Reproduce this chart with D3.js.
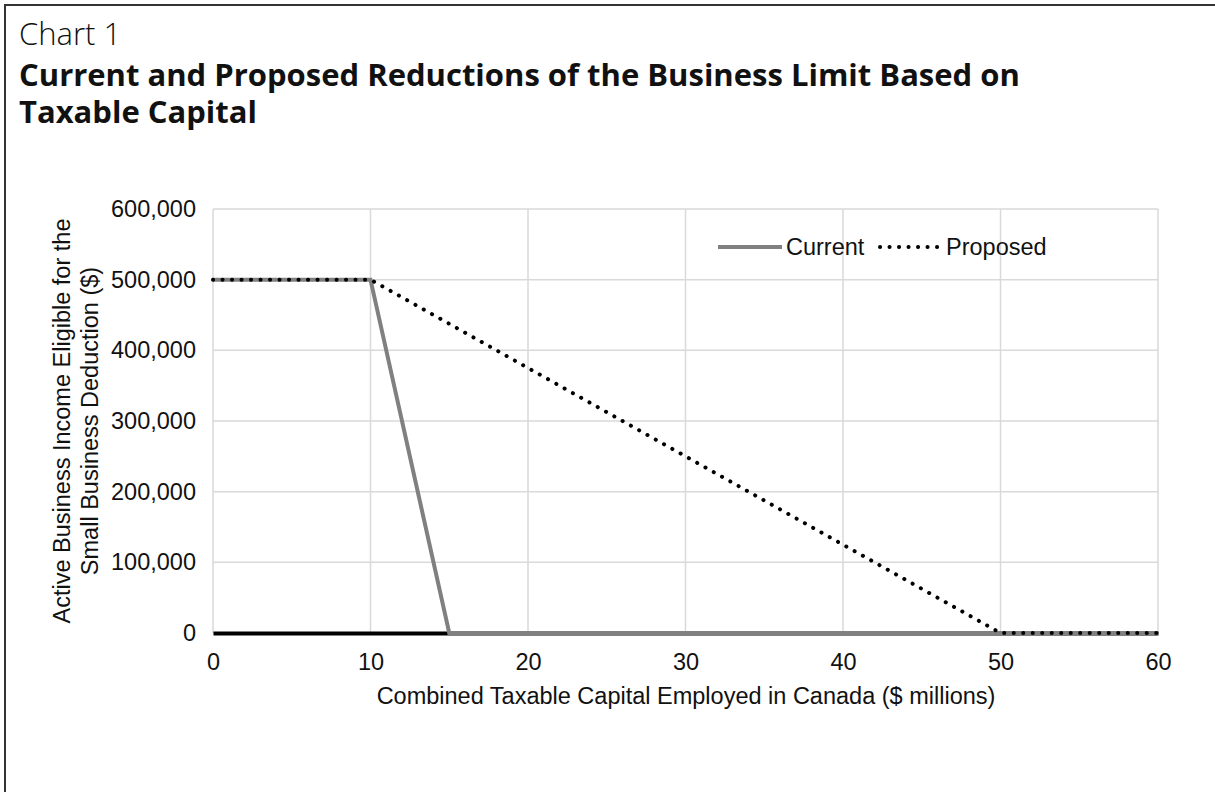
<!DOCTYPE html>
<html><head><meta charset="utf-8">
<script src="https://cdn.jsdelivr.net/npm/d3@7"></script>
<style>
body{margin:0;background:#fff;}
svg{display:block;}
</style></head>
<body>
<svg id="chart" width="1215" height="792"></svg>
<script>
const currentX = [0, 10, 15, 60];
const currentValues = [500000, 500000, 0, 0];
const proposedX = [0, 10, 50, 60];
const proposedValues = [500000, 500000, 0, 0];
const xTicks = [0, 10, 20, 30, 40, 50, 60];
const yTicks = [0, 100000, 200000, 300000, 400000, 500000, 600000];
const seriesNames = ["Current", "Proposed"];

const svg = d3.select("#chart");
svg.append("rect").attr("x",5).attr("y",5).attr("width",1220).attr("height",800)
  .attr("fill","none").attr("stroke","#333").attr("stroke-width",2);

const tfont = "'Open Sans', sans-serif";
svg.append("text").attr("x",19).attr("y",45).text("Chart 1")
  .style("font-family",tfont).style("font-size","31px").style("font-weight","300").attr("fill","#111");
const tt = svg.append("text").style("font-family",tfont).style("font-size","31px").style("font-weight","700").attr("fill","#111");
tt.append("tspan").attr("x",19).attr("y",86).text("Current and Proposed Reductions of the Business Limit Based on");
tt.append("tspan").attr("x",19).attr("y",123).text("Taxable Capital");

const x = d3.scaleLinear().domain([0,60]).range([213,1158]);
const y = d3.scaleLinear().domain([0,600000]).range([633,209]);
const font = "'Liberation Sans', Arial, sans-serif";
const fs = "23.5px";

svg.append("g").selectAll("line").data(xTicks).join("line")
  .attr("x1",d=>x(d)).attr("x2",d=>x(d)).attr("y1",y(0)).attr("y2",y(600000))
  .attr("stroke","#d9d9d9").attr("stroke-width",1.5);
svg.append("g").selectAll("line").data(yTicks).join("line")
  .attr("x1",x(0)).attr("x2",x(60)).attr("y1",d=>y(d)).attr("y2",d=>y(d))
  .attr("stroke","#d9d9d9").attr("stroke-width",1.5);

const yAxis = d3.axisLeft(y).tickValues(yTicks).tickFormat(d3.format(",")).tickSize(0).tickPadding(17);
const gy = svg.append("g").attr("transform",`translate(${x(0)},0)`).call(yAxis);
gy.select(".domain").remove();
gy.selectAll("text").style("font-family",font).style("font-size",fs).attr("fill","#111");

const xAxis = d3.axisBottom(x).tickValues(xTicks).tickSize(0).tickPadding(20);
const gx = svg.append("g").attr("transform",`translate(0,${y(0)})`).call(xAxis);
gx.select(".domain").attr("stroke","#000").attr("stroke-width",4);
gx.selectAll("text").style("font-family",font).style("font-size",fs).attr("fill","#111");

const curData = currentX.map((c,i)=>({x:c,y:currentValues[i]}));
const propData = proposedX.map((c,i)=>({x:c,y:proposedValues[i]}));
const line = d3.line().x(d=>x(d.x)).y(d=>y(d.y));
svg.append("path").datum(curData).attr("d",line).attr("fill","none")
  .attr("stroke","#808080").attr("stroke-width",4);
svg.append("path").datum(propData).attr("d",line).attr("fill","none")
  .attr("stroke","#000").attr("stroke-width",4).attr("stroke-linecap","round")
  .attr("stroke-dasharray","0.1 9.4");

const lg = svg.append("g");
lg.append("line").attr("x1",718).attr("x2",782).attr("y1",247).attr("y2",247).attr("stroke","#808080").attr("stroke-width",4);
lg.append("text").attr("x",786).attr("y",255).text(seriesNames[0]).style("font-family",font).style("font-size",fs).attr("fill","#111");
lg.append("line").attr("x1",880).attr("x2",940).attr("y1",247).attr("y2",247).attr("stroke","#000").attr("stroke-width",4)
  .attr("stroke-linecap","round").attr("stroke-dasharray","0.1 9.4");
lg.append("text").attr("x",946).attr("y",255).text(seriesNames[1]).style("font-family",font).style("font-size",fs).attr("fill","#111");

svg.append("text").attr("x",686).attr("y",704).attr("text-anchor","middle")
  .text("Combined Taxable Capital Employed in Canada ($ millions)")
  .style("font-family",font).style("font-size",fs).attr("fill","#111");
const yt = svg.append("text").attr("transform","translate(0,421) rotate(-90)").attr("text-anchor","middle")
  .style("font-family",font).style("font-size",fs).attr("fill","#111");
yt.append("tspan").attr("x",0).attr("y",70).text("Active Business Income Eligible for the");
yt.append("tspan").attr("x",0).attr("y",98).text("Small Business Deduction ($)");
</script>
</body></html>
